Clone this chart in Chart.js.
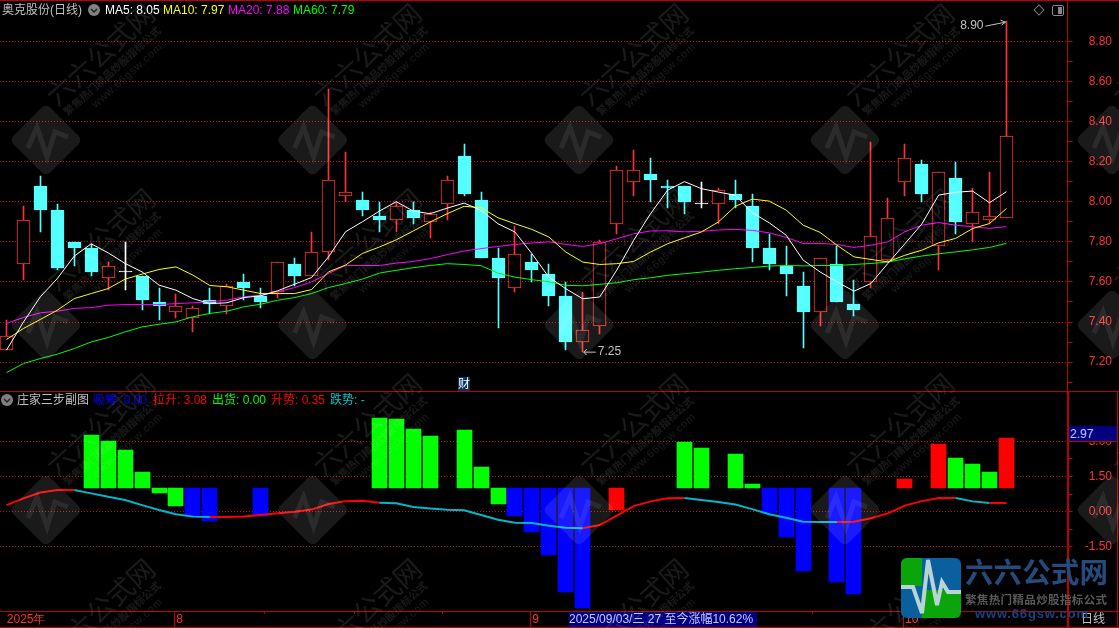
<!DOCTYPE html>
<html lang="zh">
<head>
  <meta charset="UTF-8">
  <title>奥克股份(日线)</title>
  <script src="https://cdn.jsdelivr.net/npm/chart.js"></script>
  <style>
    html, body { margin: 0; background: #000; width: 1119px; height: 628px; overflow: hidden; }
    canvas { position: absolute; left: 0; }
    .t { position: absolute; white-space: pre; font: 12px/14px "Liberation Sans", "Noto Sans CJK SC", sans-serif; }
    .line { position: absolute; background: #c00000; }
    #marks { position: absolute; left: 0; top: 0; pointer-events: none; }
  </style>
</head>
<body>
  <canvas id="priceChart" width="1119" height="392" style="top:0"></canvas>
  <canvas id="stepChart" width="1119" height="236" style="top:392px"></canvas>

  <!-- 边框 -->
  <div class="line" style="left:0;top:0;width:1119px;height:1px"></div>
  <div class="line" style="left:0;top:391px;width:1119px;height:1px"></div>
  <div class="line" style="left:0;top:611px;width:1119px;height:1px"></div>
  <div class="line" style="left:0;top:627px;width:1119px;height:1px"></div>
  <div class="line" style="left:1067px;top:0;width:1px;height:628px"></div>
  <div class="line" style="left:1068px;top:391px;width:1px;height:237px"></div>
  <div class="line" style="left:1117px;top:391px;width:1px;height:237px"></div>

  <!-- 主图标题 -->
  <div class="t" style="left:2px;top:3px;color:#c0c0c0">奥克股份(日线)</div>
  <div class="t" style="left:105px;top:3px;color:#fff">MA5: 8.05</div>
  <div class="t" style="left:163px;top:3px;color:#ff0">MA10: 7.97</div>
  <div class="t" style="left:228px;top:3px;color:#f0f">MA20: 7.88</div>
  <div class="t" style="left:293px;top:3px;color:#0f0">MA60: 7.79</div>

  <!-- 副图标题 -->
  <div class="t" style="left:17px;top:393px;color:#c0c0c0">庄家三步副图</div>
  <div class="t" style="left:93px;top:393px;color:#00f">吸筹: 0.00</div>
  <div class="t" style="left:153px;top:393px;color:#f00">拉升: 3.08</div>
  <div class="t" style="left:212px;top:393px;color:#0f0">出货: 0.00</div>
  <div class="t" style="left:271px;top:393px;color:#f00">升势: 0.35</div>
  <div class="t" style="left:330px;top:393px;color:#00c8c8">跌势: -</div>

  <div class="t" style="left:458px;top:377px;width:12px;height:14px;background:#0a3060;color:#fff;text-align:center">财</div>
  <div class="t" style="left:1069px;top:426px;width:48px;height:15px;background:#000080;color:#c8c8ff;line-height:16px;padding-left:1px;box-sizing:border-box">2.97</div>
  <div class="line" style="left:1068px;top:441px;width:50px;height:1px"></div>
  <div class="t" style="left:569px;top:612px;width:188px;height:15px;background:#000080;color:#c8c8ff;line-height:15px">2025/09/03/三 27 至今涨幅10.62%</div>
  <div class="t" style="left:1081px;top:612px;color:#c0c0c0">日线</div>

  <!-- 水印和图标 -->
  <svg id="marks" width="1119" height="628" xmlns="http://www.w3.org/2000/svg" font-family="'Noto Sans CJK SC', sans-serif">
    <defs>
      <g id="stamp" fill="#fff" fill-opacity="0.1">
        <rect x="-26" y="-26" width="52" height="52" rx="6" transform="rotate(45)"/>
        <polyline points="-18,8 -9,-13 1,17 9,-8 22,-3" fill="none" stroke="#fff" stroke-opacity="0.08" stroke-width="5"/>
        <g transform="translate(11,-33) rotate(-42)">
          <text font-size="27" textLength="135">六六公式网</text>
          <text y="14" x="2" font-size="10.5" font-weight="700" textLength="126">繁焦热门精品炒股指标公式</text>
          <text y="27" x="28" font-size="11" font-family="'Liberation Sans'" textLength="90">www.66gsw.com</text>
        </g>
      </g>
    </defs>
    <g id="stamps"></g>

    <circle cx="94" cy="10" r="6" fill="#808080"/>
    <polyline points="91,9 94,12 97,9" fill="none" stroke="#222" stroke-width="1.5"/>
    <circle cx="7" cy="400" r="6" fill="#808080"/>
    <polyline points="4,399 7,402 10,399" fill="none" stroke="#222" stroke-width="1.5"/>
    <rect x="1035.5" y="6.5" width="7" height="7" transform="rotate(45 1039 10)" fill="none" stroke="#777"/>
    <rect x="1052.5" y="5.5" width="11" height="10" rx="1.5" fill="none" stroke="#888"/>
    <rect x="1058" y="7" width="4" height="7" fill="#888"/>

    <g>
      <clipPath id="logoClip"><rect x="901" y="558" width="60" height="60" rx="6"/></clipPath>
      <g clip-path="url(#logoClip)">
        <rect x="901" y="558" width="60" height="60" fill="#0a5f9e"/>
        <rect x="901" y="558" width="21" height="28" fill="#0aa50a"/>
        <rect x="922" y="590" width="39" height="28" fill="#0aa50a"/>
        <polyline points="901,587 913,587 922,613 928,560 937,605 942,582 948,592 961,592" fill="none" stroke="#b8d4d4" stroke-width="4"/>
      </g>
      <text x="965" y="583" font-size="28.5" font-weight="700" fill="#274a7c" textLength="143">六六公式网</text>
      <text x="965" y="604" font-size="11.5" font-weight="700" fill="#5a5a5a" textLength="142">繁焦热门精品炒股指标公式</text>
      <text x="975" y="618" font-size="13" font-weight="700" font-family="'Liberation Sans'" fill="#1f3f80" textLength="113">www.66gsw.com</text>
    </g>
  </svg>

  <script>
    // 日K线
    const opens = [7.26,7.69,8.08,7.96,7.80,7.77,7.62,7.65,7.63,7.50,
                   7.45,7.42,7.51,7.48,7.60,7.53,7.55,7.69,7.63,7.75,
                   8.03,8.01,7.93,7.91,7.96,7.90,7.99,8.23,8.01,7.72,
                   7.57,7.70,7.64,7.53,7.30,7.38,7.89,8.10,8.14,8.08,
                   8.08,7.99,7.99,8.04,7.98,7.77,7.68,7.58,7.45,7.69,
                   7.49,7.60,7.71,8.10,8.19,7.78,8.12,7.89,7.91,7.92];
    const closes = [7.33,7.91,7.96,7.67,7.77,7.65,7.68,7.65,7.51,7.48,
                    7.48,7.47,7.49,7.58,7.57,7.50,7.70,7.63,7.75,8.11,
                    8.05,7.96,7.91,7.98,7.92,7.94,8.11,8.04,7.72,7.62,
                    7.74,7.66,7.53,7.30,7.36,7.80,8.16,8.16,8.11,8.07,
                    8.00,7.99,8.06,8.01,7.77,7.69,7.64,7.45,7.72,7.50,
                    7.46,7.83,7.92,8.22,8.04,8.15,7.90,7.95,7.93,8.33];
    const highs = [7.41,7.98,8.13,7.99,7.80,7.79,7.70,7.80,7.63,7.57,
                   7.54,7.48,7.57,7.59,7.64,7.57,7.70,7.72,7.85,8.56,
                   8.25,8.05,8.00,8.00,8.00,7.95,8.13,8.29,8.05,7.77,
                   7.88,7.74,7.69,7.60,7.55,7.81,8.18,8.26,8.22,8.11,
                   8.08,8.10,8.07,8.11,8.04,7.84,7.78,7.65,7.72,7.78,
                   7.61,8.30,8.02,8.29,8.21,8.15,8.20,8.07,8.15,8.90];
    const lows = [7.26,7.61,7.85,7.66,7.68,7.63,7.56,7.56,7.46,7.41,
                  7.42,7.35,7.44,7.44,7.51,7.47,7.52,7.58,7.63,7.71,
                  8.00,7.93,7.85,7.85,7.89,7.82,7.91,8.03,7.72,7.37,
                  7.55,7.60,7.48,7.26,7.25,7.34,7.84,8.03,8.00,7.97,
                  7.94,7.97,7.89,7.97,7.70,7.66,7.53,7.27,7.38,7.50,
                  7.43,7.57,7.70,8.03,8.00,7.66,7.84,7.80,7.89,7.92];

    // 均线
    const ma5 = [7.26,7.40,7.526,7.617,7.729,7.79,7.745,7.692,7.65,7.584,
                 7.559,7.517,7.492,7.496,7.522,7.531,7.556,7.589,7.622,7.725,
                 7.85,7.90,7.953,8.0,7.953,7.94,7.968,7.993,7.957,7.89,
                 7.849,7.741,7.624,7.566,7.516,7.525,7.658,7.807,7.94,8.057,
                 8.10,8.065,8.048,8.032,7.945,7.895,7.833,7.709,7.65,7.60,
                 7.554,7.592,7.692,7.79,7.888,8.033,8.047,8.053,7.995,8.05];
    const ma10 = [7.313,7.368,7.413,7.459,7.517,7.542,7.567,7.614,7.639,7.662,
                  7.675,7.634,7.582,7.576,7.559,7.542,7.542,7.542,7.562,7.65,
                  7.684,7.742,7.774,7.81,7.854,7.899,7.94,7.977,7.97,7.92,
                  7.89,7.862,7.824,7.749,7.699,7.687,7.691,7.702,7.749,7.79,
                  7.82,7.849,7.899,7.977,8.013,8.003,7.958,7.883,7.847,7.783,
                  7.725,7.712,7.70,7.733,7.758,7.795,7.817,7.866,7.891,7.966];
    const ma20 = [7.393,7.423,7.446,7.454,7.468,7.472,7.484,7.487,7.487,7.487,
                  7.492,7.496,7.501,7.509,7.526,7.534,7.551,7.572,7.60,7.642,
                  7.682,7.682,7.682,7.694,7.702,7.716,7.736,7.754,7.766,7.777,
                  7.787,7.794,7.80,7.787,7.777,7.791,7.815,7.84,7.854,7.855,
                  7.85,7.852,7.859,7.862,7.857,7.845,7.822,7.792,7.792,7.787,
                  7.772,7.783,7.80,7.85,7.883,7.896,7.883,7.875,7.867,7.876];
    const ma60 = [7.148,7.193,7.218,7.24,7.268,7.301,7.323,7.351,7.376,7.389,
                  7.401,7.426,7.443,7.454,7.476,7.489,7.509,7.522,7.542,7.572,
                  7.592,7.614,7.644,7.658,7.671,7.682,7.691,7.687,7.681,7.644,
                  7.624,7.611,7.601,7.583,7.581,7.588,7.596,7.611,7.621,7.633,
                  7.641,7.649,7.658,7.666,7.672,7.679,7.682,7.68,7.682,7.682,
                  7.687,7.692,7.699,7.715,7.729,7.74,7.75,7.76,7.772,7.792];

    // 副图柱子，从 1.00 画起
    const stepBase = 1;
    const absorbBars = [null,null,null,null,null,null,null,null,null,null,
                        null,-0.17,-0.38,null,null,-0.2,null,null,null,null,
                        null,null,null,null,null,null,null,null,null,null,
                        -0.18,-0.87,-1.83,-3.42,-4.1,null,null,null,null,null,
                        null,null,null,null,null,-0.06,-1.09,-2.53,null,-3.0,
                        -3.52,null,null,null,null,null,null,null,null,null];
    const liftBars = [null,null,null,null,null,null,null,null,null,null,
                      null,null,null,null,null,null,null,null,null,null,
                      null,null,null,null,null,null,null,null,null,null,
                      null,null,null,null,null,null,0.07,null,null,null,
                      null,null,null,null,null,null,null,null,null,null,
                      null,null,null,1.39,null,2.88,null,null,null,3.14];
    const shipBars = [null,null,null,null,null,3.27,3.01,2.63,1.69,0.81,
                      0.26,null,null,null,null,null,null,null,null,null,
                      null,null,3.99,3.95,3.52,3.22,null,3.48,1.90,0.34,
                      null,null,null,null,null,null,null,null,null,null,
                      2.97,2.71,null,2.46,1.18,null,null,null,null,null,
                      null,null,null,null,null,null,2.28,2.02,1.69,null];

    // 趋势线，fallSpans 内是跌势
    const trendLine = [0.28,0.57,0.82,0.92,0.92,0.78,0.64,0.50,0.28,0.07,
                       -0.11,-0.21,-0.23,-0.23,-0.2,-0.14,-0.07,0.0,0.09,0.33,
                       0.45,0.47,0.38,0.355,0.2,0.14,0.085,0.057,-0.14,-0.34,
                       -0.47,-0.48,-0.6,-0.68,-0.7,-0.57,-0.17,0.24,0.44,0.57,
                       0.58,0.5,0.41,0.31,0.11,-0.11,-0.26,-0.43,-0.44,-0.44,
                       -0.43,-0.28,-0.07,0.26,0.45,0.58,0.58,0.44,0.37,0.37];
    const fallSpans = [[4,12],[22,34],[40,49],[56,58]];

    // 刻度
    const priceTicks = [7.2,7.4,7.6,7.8,8.0,8.2,8.4,8.6,8.8];
    const priceMinorTicks = [7.1,7.3,7.5,7.7,7.9,8.1,8.3,8.5,8.7];
    const stepTicks = [3,1.5,0,-1.5];
    const stepMinorTicks = [2.25,0.75,-0.75];
    const dateTicks = [-0.1,9.9,30.9,52.9];
    const dateLabels = ['2025年','8','9','10'];
    const dateMinorTicks = [15.2,20.5,25.7,47.5];

    const RED = '#ff3232', FRAME = '#c00000', GRID = '#c41010', CYAN = '#54ffff';
    const AXIS_FONT = { family: '"Liberation Sans"', size: 12 };
    const X_MIN = -0.383, X_MAX = 62.6;

    Chart.defaults.animation = false;

    // 把柱子对齐到整像素，不然 1px 的影线会发虚
    const snapBars = {
      id: 'snapBars',
      beforeDatasetsDraw(chart) {
        chart.data.datasets.forEach((ds, i) => {
          const meta = chart.getDatasetMeta(i);
          if (meta.type !== 'bar') return;
          meta.data.forEach(el => {
            el.x = Math.round(el.x - 0.5) + 0.5;
            el.y = Math.round(el.y);
            el.base = Math.round(el.base);
          });
        });
      }
    };

    // 最高价、最低价的箭头标注
    const extremeLabels = {
      id: 'extremeLabels',
      afterDatasetsDraw(chart) {
        const { ctx, scales: { x, y } } = chart;
        const hi = Math.max(...highs), lo = Math.min(...lows);
        const hx = x.getPixelForValue(highs.indexOf(hi)), hy = y.getPixelForValue(hi);
        const lx = x.getPixelForValue(lows.indexOf(lo)), ly = y.getPixelForValue(lo);
        ctx.save();
        ctx.strokeStyle = ctx.fillStyle = '#c0c0c0';
        ctx.font = '12px "Liberation Sans"';
        ctx.textBaseline = 'middle';
        ctx.beginPath();
        ctx.moveTo(hx - 21, hy + 5); ctx.lineTo(hx - 1, hy + 1);
        ctx.moveTo(hx - 6, hy - 1); ctx.lineTo(hx - 1, hy + 1); ctx.lineTo(hx - 5, hy + 4);
        ctx.moveTo(lx + 13, ly); ctx.lineTo(lx + 1, ly);
        ctx.moveTo(lx + 4, ly - 3); ctx.lineTo(lx + 1, ly); ctx.lineTo(lx + 4, ly + 3);
        ctx.stroke();
        ctx.textAlign = 'right';
        ctx.fillText(hi.toFixed(2), hx - 23, hy + 5);
        ctx.textAlign = 'left';
        ctx.fillText(lo.toFixed(2), lx + 15, ly);
        ctx.restore();
      }
    };

    // 日期轴上的小刻度
    const dateMinorMarks = {
      id: 'dateMinorMarks',
      afterDraw(chart) {
        const { ctx, scales: { x } } = chart;
        ctx.save();
        ctx.strokeStyle = FRAME;
        ctx.beginPath();
        dateMinorTicks.forEach(v => {
          const px = Math.round(x.getPixelForValue(v)) + 0.5;
          ctx.moveTo(px, x.top);
          ctx.lineTo(px, x.top + 3);
        });
        ctx.stroke();
        ctx.restore();
      }
    };

    function toLine(values) {
      return values.map((y, x) => ({ x, y }));
    }

    function toStepBars(values) {
      const bars = [];
      values.forEach((v, x) => { if (v !== null) bars.push({ x, y: [stepBase, v] }); });
      return bars;
    }

    function candleColor(i) {
      if (closes[i] > opens[i]) return RED;
      return closes[i] < opens[i] ? CYAN : '#fff';
    }

    function maDataset(label, values, color) {
      return { type: 'line', label, data: toLine(values), borderColor: color, borderWidth: 1,
               pointRadius: 0, tension: 0, order: 0 };
    }

    function stepDataset(label, values, color) {
      return { type: 'bar', label, data: toStepBars(values), backgroundColor: color,
               barThickness: 15, grouped: false, order: 1 };
    }

    function valueAxis(min, max, major, minor) {
      return {
        position: 'right', min, max,
        afterFit(axis) {
          // 标签不占绘图区的边距
          axis.width = 44.5;
          axis.paddingTop = 0;
          axis.paddingBottom = 0;
        },
        afterBuildTicks(axis) { axis.ticks = major.concat(minor).map(value => ({ value })); },
        border: { display: false, dash: [1, 2] },
        grid: {
          color: c => major.includes(c.tick.value) ? GRID : 'transparent',
          tickColor: FRAME, tickLength: 5, tickBorderDash: []
        },
        ticks: {
          color: RED, font: AXIS_FONT, crossAlign: 'far', autoSkip: false,
          callback: v => major.includes(v) ? v.toFixed(2) : ''
        }
      };
    }

    const indexAxis = {
      type: 'linear', min: X_MIN, max: X_MAX, offset: false, display: false, grid: { offset: false }
    };

    new Chart(document.getElementById('priceChart'), {
      type: 'bar',
      data: {
        datasets: [
          { label: '影线', data: highs.map((h, x) => ({ x, y: [lows[x], h] })),
            backgroundColor: highs.map((h, i) => candleColor(i)),
            barThickness: 1, grouped: false, order: 2 },
          { label: 'K线', data: opens.map((o, x) => ({ x, y: [o, closes[x]] })),
            backgroundColor: opens.map((o, i) => candleColor(i) === RED ? '#000' : candleColor(i)),
            borderColor: opens.map((o, i) => candleColor(i)),
            borderWidth: 1, borderSkipped: false, minBarLength: 1,
            barThickness: 13, grouped: false, order: 1 },
          maDataset('MA5', ma5, '#ffffff'),
          maDataset('MA10', ma10, '#ffff00'),
          maDataset('MA20', ma20, '#ff00ff'),
          maDataset('MA60', ma60, '#00ff00')
        ]
      },
      options: {
        responsive: false,
        layout: { padding: { right: 7 } },
        plugins: { legend: { display: false }, tooltip: { enabled: false } },
        scales: {
          x: indexAxis,
          y: valueAxis(7.0513, 9.0055, priceTicks, priceMinorTicks)
        }
      },
      plugins: [snapBars, extremeLabels]
    });

    new Chart(document.getElementById('stepChart'), {
      type: 'bar',
      data: {
        datasets: [
          stepDataset('吸筹', absorbBars, '#0000ff'),
          stepDataset('拉升', liftBars, '#ff0000'),
          stepDataset('出货', shipBars, '#00ff00'),
          { type: 'line', label: '趋势', data: toLine(trendLine), borderWidth: 2, pointRadius: 0, tension: 0,
            borderColor: '#ff0000', order: 0,
            segment: {
              borderColor: c => fallSpans.some(s => c.p0DataIndex >= s[0] && c.p0DataIndex < s[1]) ? '#00b8c8' : '#ff0000'
            } }
        ]
      },
      options: {
        responsive: false,
        layout: { padding: { right: 7 } },
        plugins: { legend: { display: false }, tooltip: { enabled: false } },
        scales: {
          x: {
            type: 'linear', min: X_MIN, max: X_MAX, offset: false,
            afterFit(axis) {
              axis.height = 17;
              axis.paddingLeft = 0;
              axis.paddingRight = 0;
            },
            afterBuildTicks(axis) { axis.ticks = dateTicks.map(value => ({ value })); },
            border: { display: false },
            grid: {
              offset: false, drawOnChartArea: false, tickLength: 16,
              tickColor: c => c.index === 0 ? 'transparent' : FRAME
            },
            ticks: {
              color: RED, font: AXIS_FONT, align: 'start', padding: -15, labelOffset: 2,
              maxRotation: 0, autoSkip: false,
              callback: (v, i) => dateLabels[i]
            }
          },
          y: valueAxis(-4.231, 5.10, stepTicks, stepMinorTicks)
        }
      },
      plugins: [snapBars, dateMinorMarks]
    });

    // 水印平铺
    const stampColumns = [46, 312.6, 579, 845, 1112];
    const stampRows = [140, 325, 510, 695];
    const stampLayer = document.getElementById('stamps');
    stampRows.forEach(row => stampColumns.forEach(col => {
      const use = document.createElementNS('http://www.w3.org/2000/svg', 'use');
      use.setAttribute('href', '#stamp');
      use.setAttribute('transform', `translate(${col},${row})`);
      stampLayer.appendChild(use);
    }));
  </script>
</body>
</html>
